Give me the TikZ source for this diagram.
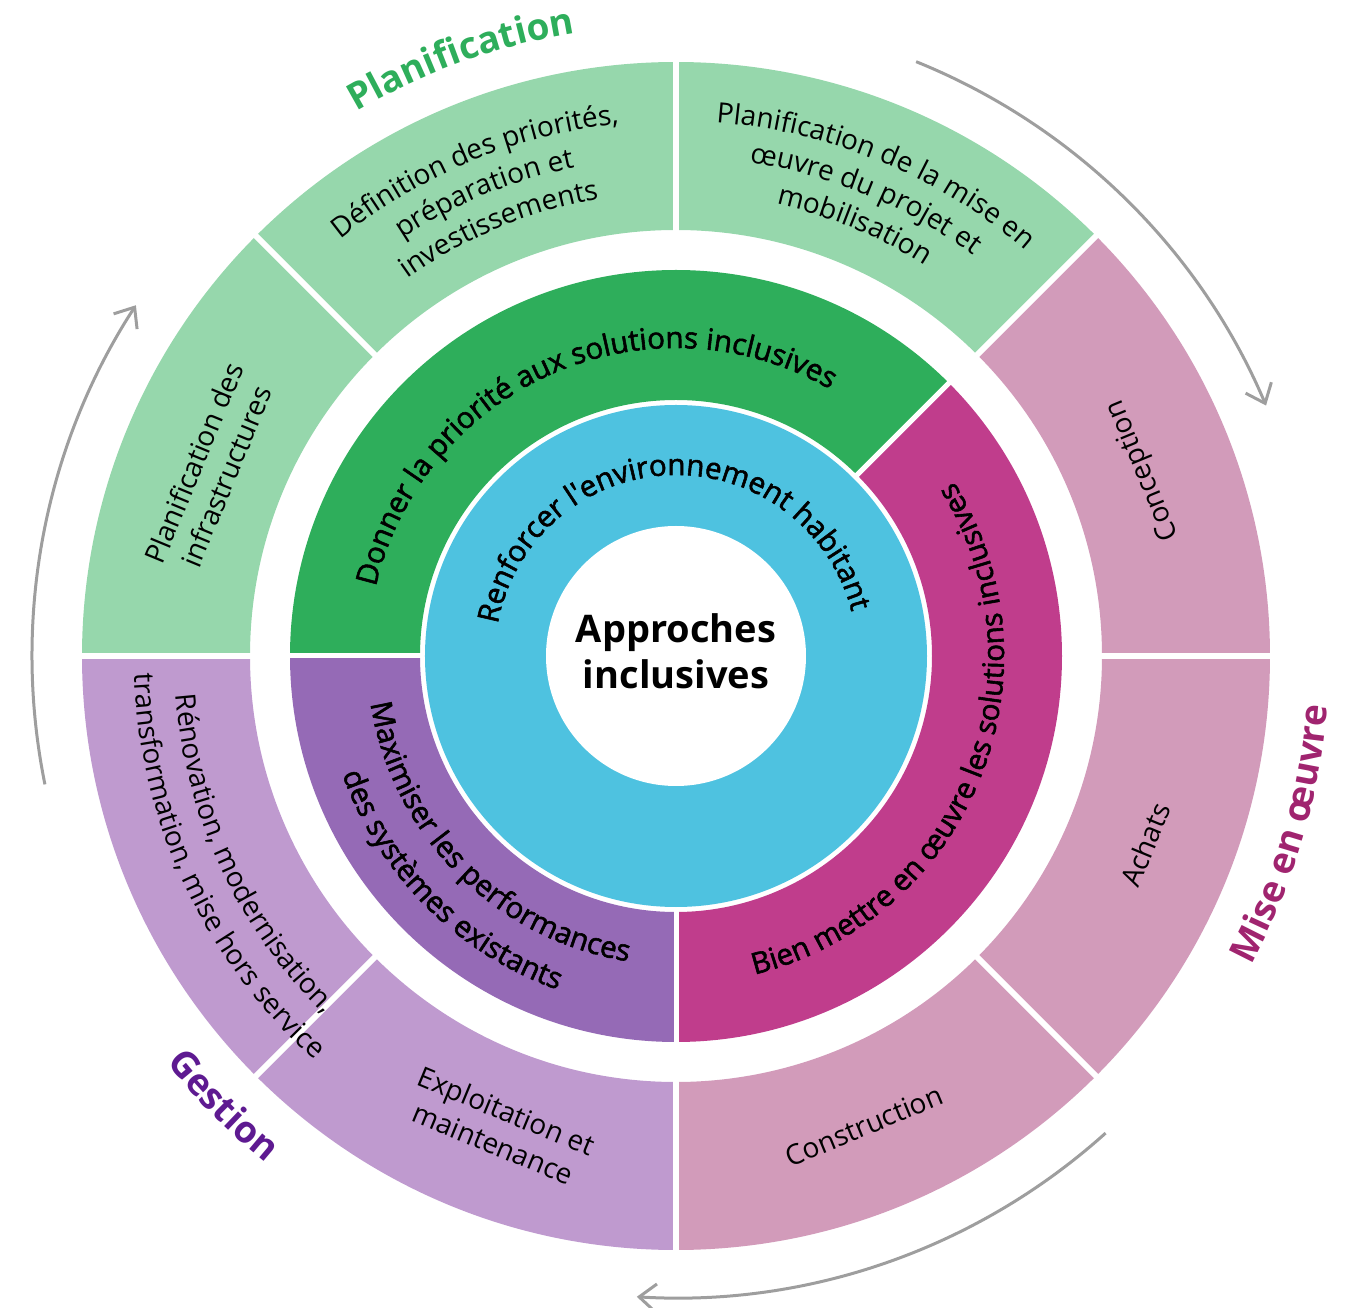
\documentclass[tikz,border=0pt]{standalone}
\usepackage{fontspec}
\setmainfont{Open Sans}
\newfontfamily\semibfam[FakeBold=1.9]{Open Sans}
\usetikzlibrary{decorations.text,arrows.meta}

\definecolor{verdeclaro}{HTML}{96D7AC}
\definecolor{rosa}{HTML}{D29BBA}
\definecolor{lila}{HTML}{BF9ACF}
\definecolor{verde}{HTML}{2EAE5B}
\definecolor{magentaf}{HTML}{C03D8C}
\definecolor{morado}{HTML}{956AB6}
\definecolor{celeste}{HTML}{4EC2E0}
\definecolor{gris}{HTML}{9E9E9E}
\definecolor{txtmag}{HTML}{A0246F}
\definecolor{txtmor}{HTML}{5E1A91}

\newcommand\fexterior{\fontsize{28}{35}\selectfont}
\newcommand\fmedio{\semibfam\fontsize{29.5}{35}\selectfont}
\newcommand\fetiq{\bfseries\fontsize{37}{44}\selectfont}

\begin{document}
\begin{tikzpicture}[x=1pt,y=1pt]
% estilos separados
\tikzset{
  gap/.style={white, line width=6pt},
  rtext/.style={font=\fexterior, align=center, inner sep=0pt},
  ctext/.style={decorate, decoration={text along path, text align=center, text={#1}}},
  flecha/.style={gris, line width=3pt, -{Straight Barb[length=17pt,width=28pt]}}
}
\useasboundingbox (-676,-652) rectangle (678,656);

% anillo exterior
\fill[verdeclaro] (45:594) arc[start angle=45, end angle=180, radius=594] -- (180:426) arc[start angle=180, end angle=45, radius=426] -- cycle;
\fill[rosa] (-90:594) arc[start angle=-90, end angle=45, radius=594] -- (45:426) arc[start angle=45, end angle=-90, radius=426] -- cycle;
\fill[lila] (180:594) arc[start angle=180, end angle=270, radius=594] -- (270:426) arc[start angle=270, end angle=180, radius=426] -- cycle;
\foreach \a in {0,45,...,315} \draw[gap] (\a:420) -- (\a:600);

% anillo medio
\fill[verde] (45:386) arc[start angle=45, end angle=180, radius=386] -- (180:256) arc[start angle=180, end angle=45, radius=256] -- cycle;
\fill[magentaf] (-90:386) arc[start angle=-90, end angle=45, radius=386] -- (45:256) arc[start angle=45, end angle=-90, radius=256] -- cycle;
\fill[morado] (180:386) arc[start angle=180, end angle=270, radius=386] -- (270:256) arc[start angle=270, end angle=180, radius=256] -- cycle;
\foreach \a in {45,180,270} \draw[gap, line width=5pt] (\a:250) -- (\a:390);

% centro
\fill[celeste] (0,0) circle[radius=251];
\fill[white] (0,0) circle[radius=130];
\node[font=\bfseries\fontsize{38}{46}\selectfont, align=center] (centro) at (0,5) {Approches\\inclusives};

\path[ctext={|\fmedio|Renforcer l'environnement habitant}] (182:181) arc[start angle=182, end angle=2, radius=181];
\path[ctext={|\fmedio|Donner la priorité aux solutions inclusives}] (193.5:308) arc[start angle=193.5, end angle=33.5, radius=308];
\path[ctext={|\fmedio|Bien mettre en œuvre les solutions inclusives}] (-102:328) arc[start angle=-102, end angle=58, radius=328];
\path[ctext={|\fmedio|Maximiser les performances}] (165:309) arc[start angle=165, end angle=285, radius=309];
\path[ctext={|\fmedio|des systèmes existants}] (165:354) arc[start angle=165, end angle=285, radius=354];

% textos del anillo exterior
\path[ctext={|\fexterior|Définition des priorités,}] (172.5:535) arc[start angle=172.5, end angle=52.5, radius=535];
\path[ctext={|\fexterior|préparation et}] (172.5:499) arc[start angle=172.5, end angle=52.5, radius=499];
\path[ctext={|\fexterior|investissements}] (172.5:463) arc[start angle=172.5, end angle=52.5, radius=463];
\path[ctext={|\fexterior|Planification de la mise en}] (127.5:535) arc[start angle=127.5, end angle=7.5, radius=535];
\path[ctext={|\fexterior|œuvre du projet et}] (127.5:499) arc[start angle=127.5, end angle=7.5, radius=499];
\path[ctext={|\fexterior|mobilisation}] (127.5:463) arc[start angle=127.5, end angle=7.5, radius=463];
\path[ctext={|\fexterior|Rénovation, modernisation,}] (145:502) arc[start angle=145, end angle=265, radius=502];
\path[ctext={|\fexterior|transformation, mise hors service}] (145:542) arc[start angle=145, end angle=265, radius=542];

\node[rtext, rotate=67.5] (infra) at (158.2:502) {Planification des\\infrastructures};
\node[rtext, rotate=112.5] (concep) at (21.7:503) {Conception};
\node[rtext, rotate=67.5] (achats) at (-21.9:506) {Achats};
\node[rtext, rotate=22.5] (constr) at (-68.2:506) {Construction};
\node[rtext, rotate=-22.5] (exploit) at (-110.5:503) {Exploitation et\\maintenance};

% etiquetas de fase
\path[ctext={|\color{verde}\fetiq|Planification}] (169.8:631) arc[start angle=169.8, end angle=49.8, radius=631];
\path[ctext={|\color{txtmag}\fetiq|Mise en œuvre}] (-76.3:653) arc[start angle=-76.3, end angle=43.7, radius=653];
\path[ctext={|\color{txtmor}\fetiq|Gestion}] (164.8:652) arc[start angle=164.8, end angle=284.8, radius=652];

% flechas
\coordinate (fA) at (68:641);
\coordinate (fB) at (-48:642);
\coordinate (fC) at (191.5:644);
\draw[flecha] (fA) arc[start angle=68, end angle=23, radius=641];
\draw[flecha] (fB) arc[start angle=-48, end angle=-93.5, radius=642];
\draw[flecha] (fC) arc[start angle=191.5, end angle=147, radius=644];
\end{tikzpicture}
\end{document}
